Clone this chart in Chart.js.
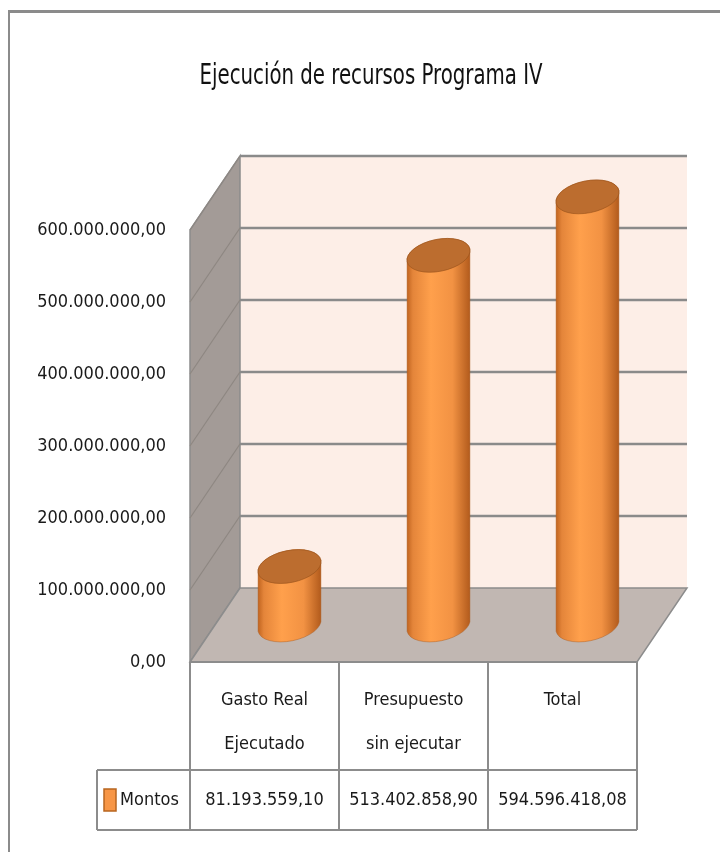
<!DOCTYPE html>
<html lang="es">
<head>
<meta charset="utf-8">
<title>Ejecución de recursos Programa IV</title>
<script src="https://cdn.jsdelivr.net/npm/chart.js@4/dist/chart.umd.min.js"></script>
<style>
    html, body { margin: 0; padding: 0; background: #fff; overflow: hidden; }
    #marco {
        position: absolute; left: 8px; top: 10px; width: 800px; height: 900px;
        border-left: 2px solid #8b8b8b; border-top: 3px solid #8b8b8b;
    }
    #grafico { position: absolute; left: 0; top: 0; }
</style>
</head>
<body>
<div id="marco"></div>
<canvas id="grafico" width="720" height="852"></canvas>
<script>
// datos del gráfico
const titulo = 'Ejecución de recursos Programa IV';
const categorias = [['Gasto Real', 'Ejecutado'], ['Presupuesto', 'sin ejecutar'], ['Total']];
const nombreSerie = 'Montos';
const montos = [81193559.10, 513402858.90, 594596418.08];
const ejeMin = 0;
const ejeMax = 600000000;
const ejePaso = 100000000;

const FUENTE = "'DejaVu Sans Condensed', 'DejaVu Sans', sans-serif";
const PROF_X = 50;   // desplazamiento de profundidad 3D
const PROF_Y = -74;

// 1.234.567,89
const formatoNumero = (v) => {
    const [ent, dec] = v.toFixed(2).split('.');
    return ent.replace(/\B(?=(\d{3})+(?!\d))/g, '.') + ',' + dec;
};

const escena3d = {
    id: 'escena3d',

    // paredes, piso y líneas de división
    beforeDatasetsDraw(chart) {
        const ctx = chart.ctx;
        const { left, right, top, bottom } = chart.chartArea;
        const y = chart.scales.y;

        ctx.save();
        // pared del fondo
        ctx.fillStyle = '#fdeee7';
        ctx.fillRect(left + PROF_X, top + PROF_Y, right - left, bottom - top);

        // pared izquierda
        ctx.beginPath();
        ctx.moveTo(left, top);
        ctx.lineTo(left + PROF_X, top + PROF_Y);
        ctx.lineTo(left + PROF_X, bottom + PROF_Y);
        ctx.lineTo(left, bottom);
        ctx.closePath();
        ctx.fillStyle = '#a39b97';
        ctx.fill();
        ctx.strokeStyle = '#8c8c8c';
        ctx.lineWidth = 1.5;
        ctx.stroke();

        // piso
        ctx.beginPath();
        ctx.moveTo(left, bottom);
        ctx.lineTo(left + PROF_X, bottom + PROF_Y);
        ctx.lineTo(right + PROF_X, bottom + PROF_Y);
        ctx.lineTo(right, bottom);
        ctx.closePath();
        ctx.fillStyle = '#c1b7b2';
        ctx.fill();
        ctx.stroke();

        // líneas de división
        y.ticks.forEach((t) => {
            if (t.value <= ejeMin) return;
            const fy = y.getPixelForValue(t.value);
            ctx.beginPath();
            ctx.moveTo(left, fy);
            ctx.lineTo(left + PROF_X, fy + PROF_Y);
            ctx.strokeStyle = '#8e8782';
            ctx.lineWidth = 1.2;
            ctx.stroke();
            ctx.beginPath();
            ctx.moveTo(left + PROF_X, fy + PROF_Y);
            ctx.lineTo(right + PROF_X, fy + PROF_Y);
            ctx.strokeStyle = '#8a8a8a';
            ctx.lineWidth = 2.5;
            ctx.stroke();
        });
        ctx.restore();
    },

    // cilindros
    afterDatasetsDraw(chart) {
        const ctx = chart.ctx;
        const meta = chart.getDatasetMeta(0);
        const base = chart.scales.y.getPixelForValue(0) + PROF_Y / 2;
        const rot = -0.2;

        meta.data.forEach((barra) => {
            const cx = barra.x + PROF_X / 2;
            const cy = barra.y + PROF_Y / 2;
            const rx = barra.width / 2;
            const ry = 16;

            const grad = ctx.createLinearGradient(cx - rx, 0, cx + rx, 0);
            grad.addColorStop(0, '#bd611d');
            grad.addColorStop(0.1, '#e4853a');
            grad.addColorStop(0.38, '#ffa04c');
            grad.addColorStop(0.72, '#f29243');
            grad.addColorStop(1, '#b0591b');

            ctx.save();
            ctx.beginPath();
            ctx.ellipse(cx, cy, rx, ry, rot, 0, Math.PI, true);
            ctx.ellipse(cx, base, rx, ry, rot, Math.PI, 0, true);
            ctx.closePath();
            ctx.fillStyle = grad;
            ctx.fill();
            ctx.strokeStyle = 'rgba(170, 90, 30, 0.45)';
            ctx.lineWidth = 1;
            ctx.stroke();

            // tapa superior
            ctx.beginPath();
            ctx.ellipse(cx, cy, rx, ry, rot, 0, Math.PI * 2);
            ctx.fillStyle = '#bc6d2f';
            ctx.fill();
            ctx.strokeStyle = 'rgba(150, 80, 25, 0.6)';
            ctx.lineWidth = 1;
            ctx.stroke();
            ctx.restore();
        });
    },

    // título y tabla de datos
    afterDraw(chart) {
        const ctx = chart.ctx;
        const { left, right, bottom } = chart.chartArea;
        const x = chart.scales.x;
        const n = categorias.length;
        const anchoCol = (right - left) / n;
        const fila1 = bottom + 108;
        const fila2 = fila1 + 60;
        const leyendaX = 97;

        ctx.save();
        // título (la fuente original es angosta)
        ctx.font = `29px ${FUENTE}`;
        const ancho = ctx.measureText(titulo).width;
        ctx.translate(371, 76);
        ctx.scale(343 / ancho, 1);
        ctx.fillStyle = '#111';
        ctx.textAlign = 'center';
        ctx.textBaseline = 'middle';
        ctx.fillText(titulo, 0, 0);
        ctx.restore();

        ctx.save();
        ctx.strokeStyle = '#8c8c8c';
        ctx.lineWidth = 2;
        ctx.beginPath();
        for (let i = 0; i <= n; i++) {
            const bx = left + i * anchoCol;
            ctx.moveTo(bx, bottom);
            ctx.lineTo(bx, fila2);
        }
        ctx.moveTo(left, bottom);
        ctx.lineTo(right, bottom);
        ctx.moveTo(leyendaX, fila1);
        ctx.lineTo(right, fila1);
        ctx.moveTo(leyendaX, fila2);
        ctx.lineTo(right, fila2);
        ctx.moveTo(leyendaX, fila1);
        ctx.lineTo(leyendaX, fila2);
        ctx.stroke();

        ctx.font = `18px ${FUENTE}`;
        ctx.fillStyle = '#1a1a1a';
        ctx.textAlign = 'center';
        ctx.textBaseline = 'middle';
        categorias.forEach((lineas, i) => {
            const cx = x.getPixelForValue(i);
            lineas.forEach((txt, j) => ctx.fillText(txt, cx, bottom + 38 + j * 44));
            ctx.fillText(formatoNumero(montos[i]), cx, (fila1 + fila2) / 2);
        });

        // leyenda
        const my = (fila1 + fila2) / 2;
        ctx.fillStyle = '#f79646';
        ctx.fillRect(104, my - 11, 12, 22);
        ctx.strokeStyle = '#b8651f';
        ctx.lineWidth = 1.5;
        ctx.strokeRect(104, my - 11, 12, 22);
        ctx.fillStyle = '#1a1a1a';
        ctx.textAlign = 'left';
        ctx.fillText(nombreSerie, 120, my);
        ctx.restore();
    },
};

new Chart(document.getElementById('grafico'), {
    type: 'bar',
    data: {
        labels: categorias,
        datasets: [{
            label: nombreSerie,
            data: montos,
            backgroundColor: 'rgba(0,0,0,0)',
            categoryPercentage: 1,
            barPercentage: 0.43,
        }],
    },
    options: {
        responsive: false,
        animation: false,
        events: [],
        layout: { padding: { left: 0, right: 83, top: 230, bottom: 190 } },
        plugins: { legend: { display: false }, tooltip: { enabled: false }, title: { display: false } },
        scales: {
            x: { display: false },
            y: {
                min: ejeMin,
                max: ejeMax,
                grid: { display: false },
                border: { display: false },
                afterFit: (scale) => { scale.width = 190; },
                ticks: {
                    stepSize: ejePaso,
                    padding: 16,
                    color: '#1a1a1a',
                    font: { family: FUENTE, size: 18 },
                    callback: (v) => formatoNumero(v),
                },
            },
        },
    },
    plugins: [escena3d],
});
</script>
</body>
</html>
